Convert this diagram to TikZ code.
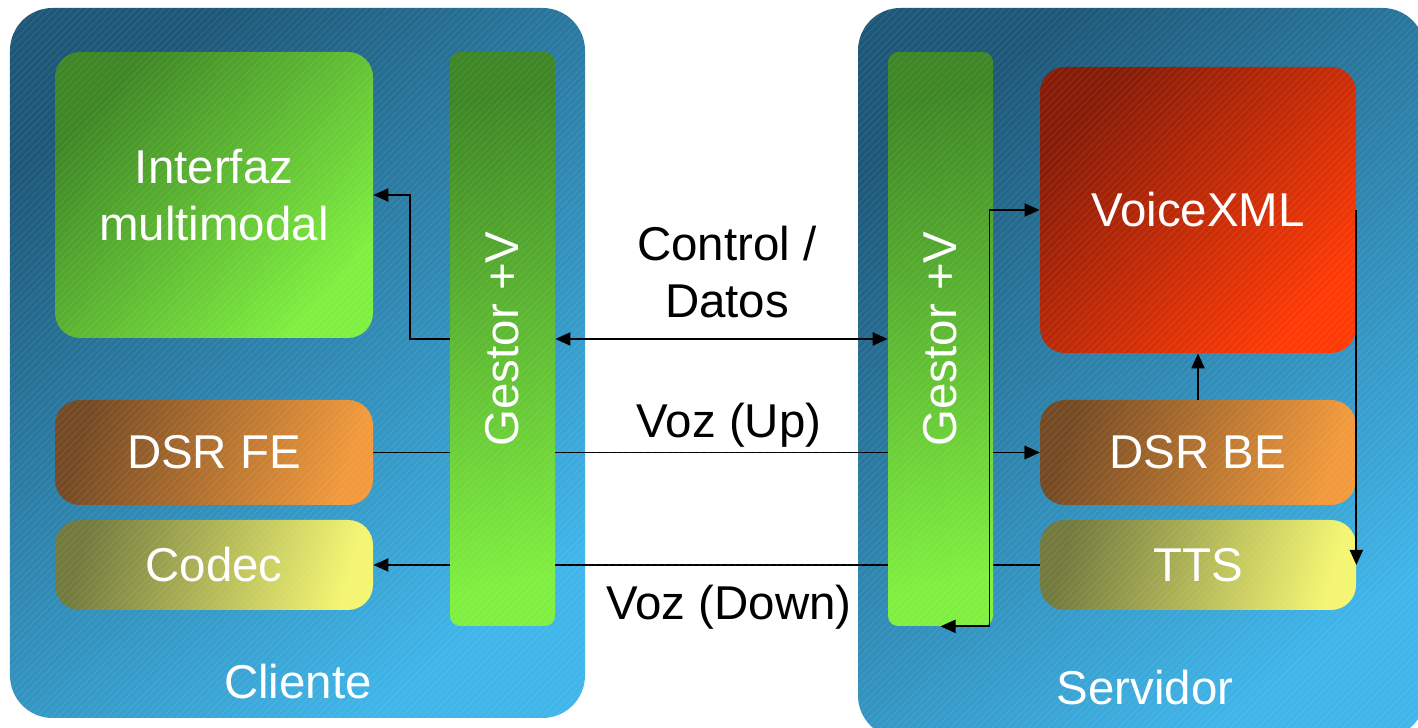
\documentclass[tikz,border=0pt]{standalone}
\usepackage{fontspec}
\setmainfont{Liberation Sans}
\usetikzlibrary{arrows.meta}
\pgfdeclarelayer{back}
\pgfdeclarelayer{mid}
\pgfsetlayers{back,mid,main}

\definecolor{panelDark}{HTML}{1E5878}
\definecolor{panelLight}{HTML}{40B6EA}
\definecolor{greenDark}{HTML}{3E8626}
\definecolor{greenLight}{HTML}{80F040}
\definecolor{brownDark}{HTML}{744A24}
\definecolor{brownLight}{HTML}{F29A3C}
\definecolor{oliveDark}{HTML}{727A3E}
\definecolor{oliveLight}{HTML}{F4F672}
\definecolor{redDark}{HTML}{861C08}
\definecolor{redLight}{HTML}{FF3A06}

\newcommand\diagfont{\fontsize{27}{32}\selectfont}

\tikzset{
  panel/.style={rounded corners=0.85cm, top color=panelDark, bottom color=panelLight, shading angle=38},
  box/.style={rounded corners=0.5cm, minimum width=6.36cm, inner sep=0pt, text=white, font=\diagfont, align=center},
  gestor/.style={rounded corners=0.2cm, minimum width=2.1cm, minimum height=11.48cm, inner sep=0pt,
    top color=greenDark, bottom color=greenLight, shading angle=12},
  vtext/.style={rotate=90, text=white, font=\diagfont},
  conn/.style={line width=1.1pt, -{Triangle[length=3mm,width=2.6mm]}},
  both/.style={line width=1.1pt, {Triangle[length=3mm,width=2.6mm]}-{Triangle[length=3mm,width=2.6mm]}},
  tag/.style={font=\diagfont, align=center},
  hatchline/.style={white, opacity=0.12, line width=0.3pt}
}

\begin{document}
\begin{tikzpicture}
\useasboundingbox (0,0) rectangle (28.36,14.56);

% cliente
\node[box, minimum height=5.72cm, top color=greenDark, bottom color=greenLight, shading angle=48] (interfaz) at (4.28,10.66) {Interfaz\\multimodal};
\node[box, minimum height=2.1cm, top color=brownDark, bottom color=brownLight, shading angle=72] (dsrfe) at (4.28,5.51) {DSR FE};
\node[box, minimum height=1.8cm, top color=oliveDark, bottom color=oliveLight, shading angle=74] (codec) at (4.28,3.26) {Codec};
\node[gestor, label={[vtext]center:Gestor +V}] (gestorL) at (10.05,7.78) {};

% servidor
\node[box, minimum width=6.32cm, minimum height=5.72cm, top color=redDark, bottom color=redLight, shading angle=48] (vxml) at (23.96,10.36) {VoiceXML};
\node[box, minimum width=6.32cm, minimum height=2.1cm, top color=brownDark, bottom color=brownLight, shading angle=72] (dsrbe) at (23.96,5.51) {DSR BE};
\node[box, minimum width=6.32cm, minimum height=1.8cm, top color=oliveDark, bottom color=oliveLight, shading angle=74] (tts) at (23.96,3.26) {TTS};
\node[gestor, label={[vtext]center:Gestor +V}] (gestorR) at (18.81,7.78) {};

% paneles
\begin{pgfonlayer}{back}
  \fill[white] (0,0) rectangle (28.36,14.56);
  \path[panel] (0.2,0.2) rectangle (11.7,14.4);
  \begin{scope}
    \clip (0,0) rectangle (28.36,14.56);
    \path[panel] (17.16,-0.2) rectangle (28.5,14.4);
  \end{scope}
\end{pgfonlayer}
\node[text=white, font=\diagfont] (cliente) at (5.96,0.92) {Cliente};
\node[text=white, font=\diagfont] (servidor) at (22.9,0.80) {Servidor};

% rayado fino
\begin{scope}
  \clip (0,0) rectangle (28.36,14.56);
  \foreach \x in {-14.6,-14.46,...,28.4}
    \draw[hatchline] (\x,0) -- ++(14.56,14.56);
\end{scope}

% etiquetas
\node[tag] (ctrl) at (14.54,9.12) {Control /\\Datos};
\node[tag] (vozup) at (14.58,6.06) {Voz (Up)};
\node[tag] (vozdown) at (14.58,2.42) {Voz (Down)};

% flujos
\begin{pgfonlayer}{mid}
  \draw[conn] (dsrfe.east) -- (dsrbe.west);
  \draw[conn] (tts.west) -- (codec.east);
\end{pgfonlayer}
\draw[conn] (gestorL.west) -- ++(-0.8,0) |- (interfaz.east);
\draw[both] (gestorL.east) -- (gestorR.west);
\draw[conn] (gestorR.east |- dsrbe.west) -- (dsrbe.west);
\draw[both] (gestorR.south) -- ++(0.98,0) |- (vxml.west);
\draw[conn] (dsrbe.north) -- (vxml.south);
\draw[conn] (vxml.east) -- (tts.east);
\end{tikzpicture}
\end{document}
